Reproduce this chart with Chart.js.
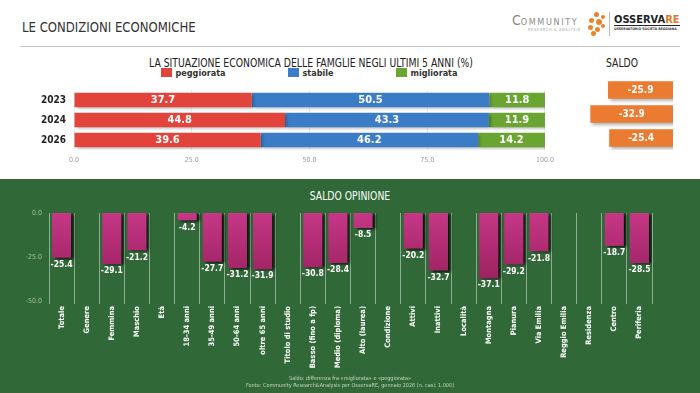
<!DOCTYPE html>
<html>
<head>
<meta charset="utf-8">
<script src="https://cdn.jsdelivr.net/npm/chart.js@4.4.1/dist/chart.umd.min.js"></script>
<style>
  body { margin: 0; width: 700px; height: 393px; overflow: hidden; background: #fff; position: relative;
         font-family: "Liberation Sans Narrow", "DejaVu Sans Condensed", Roboto, sans-serif; }
  .abs { position: absolute; }
  .stretta { transform: scaleX(0.86); transform-origin: center; }
  #header { left: 22px; top: 19px; font-size: 14px; color: #333; transform: scaleX(0.93); transform-origin: left; }
  #rule { left: 20px; top: 46px; width: 660px; height: 1px; background: #c4c4c4; }
  #verde { left: 0; top: 179px; width: 700px; height: 214px; background: #306937; }
  #titoloTop { left: 0; width: 622px; top: 56px; text-align: center; font-size: 12px; color: #222; }
  #titoloSaldo { left: 592px; width: 60px; top: 56px; text-align: center; font-size: 12px; color: #222; }
  #legenda { left: 0; width: 618px; top: 68px; display: flex; justify-content: center; gap: 62px; font-size: 9px; font-weight: bold; color: #333; }
  #legenda span.box { display: inline-block; width: 11px; height: 9px; margin-right: 4px; vertical-align: -1px; }
  #titoloBottom { left: 0; width: 700px; top: 189px; text-align: center; font-size: 12px; color: #fff; }
  #note { left: 0; width: 700px; top: 375px; text-align: center; font-size: 5.5px; line-height: 7px; color: #c3d3bf; }
  #logo1 { left: 512px; top: 12px; font-size: 9px; letter-spacing: 1.6px; color: #8a8a8a; }
  #logo1 b { font-size: 14px; font-weight: normal; letter-spacing: 0; }
  #logo1s { left: 528px; top: 27px; font-size: 4px; letter-spacing: 0.6px; color: #aaa; }
  #sep { left: 609px; top: 12px; width: 1px; height: 24px; background: #bbb; }
  #logo2 { left: 614px; top: 14px; font-size: 11px; font-weight: bold; color: #222; border-bottom: 1px solid #222; line-height: 11px; }
  #logo2 i { font-style: normal; color: #e07a2a; }
  #logo2s { left: 614px; top: 27px; font-size: 3.5px; font-weight: bold; color: #333; }
  .dot { position: absolute; border-radius: 50%; background: #e8842c; }
</style>
</head>
<body>
<div id="header" class="abs">LE CONDIZIONI ECONOMICHE</div>
<div id="rule" class="abs"></div>
<div id="logo1" class="abs"><b>C</b>OMMUNITY</div>
<div id="logo1s" class="abs">RESEARCH &amp; ANALYSIS</div>
<div class="dot" style="left:594px;top:12px;width:5px;height:5px"></div>
<div class="dot" style="left:589px;top:18px;width:5px;height:5px"></div>
<div class="dot" style="left:596px;top:19px;width:6px;height:6px"></div>
<div class="dot" style="left:601px;top:15px;width:4px;height:4px"></div>
<div class="dot" style="left:588px;top:25px;width:5px;height:5px"></div>
<div class="dot" style="left:595px;top:27px;width:5px;height:5px"></div>
<div class="dot" style="left:601px;top:24px;width:4px;height:4px"></div>
<div class="dot" style="left:591px;top:31px;width:5px;height:5px"></div>
<div id="sep" class="abs"></div>
<div id="logo2" class="abs">OSSERVA<i>RE</i></div>
<div id="logo2s" class="abs">OSSERVATORIO SOCIETÀ REGGIANA</div>

<div id="titoloTop" class="abs stretta">LA SITUAZIONE ECONOMICA DELLE FAMGLIE NEGLI ULTIMI 5 ANNI (%)</div>
<div id="titoloSaldo" class="abs stretta">SALDO</div>
<div id="legenda" class="abs"></div>

<div class="abs" style="left:0;top:76px"><canvas id="topChart" width="560" height="94"></canvas></div>
<div class="abs" style="left:560px;top:76px"><canvas id="saldoChart" width="140" height="94"></canvas></div>

<div id="verde" class="abs"></div>
<div id="titoloBottom" class="abs stretta">SALDO OPINIONE</div>
<div class="abs" style="left:0;top:179px"><canvas id="bottomChart" width="700" height="214"></canvas></div>
<div id="note" class="abs">Saldo: differenza fra «migliorata» e «peggiorata»<br>Fonte: Community Research&amp;Analysis per OsservaRE, gennaio 2026 (n. casi: 1.000)</div>

<script>
// dati
var anni = ['2023', '2024', '2026'];
var serie = ['peggiorata', 'stabile', 'migliorata'];
var peggiorata = [37.7, 44.8, 39.6];
var stabile = [50.5, 43.3, 46.2];
var migliorata = [11.8, 11.9, 14.2];
var saldo = [-25.9, -32.9, -25.4];

var categorie = ['Totale', 'Genere', 'Femmina', 'Maschio', 'Età', '18-34 anni', '35-49 anni', '50-64 anni',
  'oltre 65 anni', 'Titolo di studio', 'Basso (fino a fp)', 'Medio (diploma)', 'Alto (laurea)', 'Condizione',
  'Attivi', 'Inattivi', 'Località', 'Montagna', 'Pianura', 'Via Emilia', 'Reggio Emilia', 'Residenza',
  'Centro', 'Periferia'];
var saldoOpinione = [-25.4, null, -29.1, -21.2, null, -4.2, -27.7, -31.2, -31.9, null, -30.8, -28.4, -8.5,
  null, -20.2, -32.7, null, -37.1, -29.2, -21.8, null, null, -18.7, -28.5];

var colori = ['#e2433b', '#3b7cc6', '#6aa431'];
var FONT = '"Liberation Sans Narrow", "DejaVu Sans Condensed", Roboto, sans-serif';
Chart.defaults.font.family = FONT;

// legenda html
var leg = document.getElementById('legenda');
serie.forEach(function(s, i) {
  var d = document.createElement('div');
  d.innerHTML = '<span class="box" style="background:' + colori[i] + '"></span>' + s;
  leg.appendChild(d);
});

// ombra + etichette valori
var ombraEtichette = {
  id: 'ombraEtichette',
  beforeDatasetsDraw: function(chart, args, opts) {
    var ctx = chart.ctx;
    ctx.save();
    ctx.shadowColor = opts.shadow || 'rgba(0,0,0,0.4)';
    ctx.shadowOffsetX = opts.dx || 2;
    ctx.shadowOffsetY = opts.dy || 2;
    ctx.shadowBlur = opts.blur || 3;
  },
  afterDatasetsDraw: function(chart, args, opts) {
    var ctx = chart.ctx;
    ctx.restore();
    ctx.save();
    ctx.fillStyle = '#fff';
    ctx.font = 'bold ' + (opts.size || 11) + 'px ' + FONT;
    ctx.textAlign = 'center';
    ctx.textBaseline = 'middle';
    chart.data.datasets.forEach(function(ds, di) {
      var meta = chart.getDatasetMeta(di);
      meta.data.forEach(function(el, i) {
        var v = ds.data[i];
        if (v === null || v === undefined) return;
        var txt = v.toFixed(1);
        if (opts.mode === 'below') {
          ctx.fillText(txt, el.x, el.y + 7);
        } else {
          ctx.fillText(txt, (el.x + el.base) / 2, el.y + 0.5);
        }
      });
    });
    ctx.restore();
  }
};

var fmt = function(v) { return Number(v).toFixed(1); };

// grafico in alto: barre impilate
new Chart(document.getElementById('topChart'), {
  type: 'bar',
  data: {
    labels: anni,
    datasets: [
      { label: serie[0], data: peggiorata, backgroundColor: colori[0] },
      { label: serie[1], data: stabile, backgroundColor: colori[1] },
      { label: serie[2], data: migliorata, backgroundColor: colori[2] }
    ]
  },
  options: {
    indexAxis: 'y',
    responsive: false,
    animation: false,
    layout: { padding: { top: 2, right: 12, bottom: 2, left: 0 } },
    datasets: { bar: { barPercentage: 0.72, categoryPercentage: 1 } },
    plugins: {
      legend: { display: false },
      tooltip: { enabled: false },
      ombraEtichette: { size: 11, shadow: 'rgba(0,0,0,0.3)', dx: 2, dy: 2, blur: 3 }
    },
    scales: {
      x: {
        stacked: true, min: 0, max: 100,
        ticks: { stepSize: 25, callback: fmt, color: '#9a9a9a', font: { size: 7 }, padding: 6 },
        grid: { color: 'rgba(0,0,0,0.08)', drawTicks: false },
        border: { display: false },
        afterFit: function(s) { s.height = 18; }
      },
      y: {
        stacked: true,
        ticks: { color: '#222', font: { size: 10, weight: 'bold' }, padding: 8 },
        grid: { display: false, drawTicks: false },
        border: { display: false },
        afterFit: function(s) { s.width = 74; }
      }
    }
  },
  plugins: [ombraEtichette]
});

// saldo a destra
new Chart(document.getElementById('saldoChart'), {
  type: 'bar',
  data: {
    labels: anni,
    datasets: [{ label: 'Saldo', data: saldo, backgroundColor: '#ea7b30' }]
  },
  options: {
    indexAxis: 'y',
    responsive: false,
    animation: false,
    layout: { padding: { top: 2, right: 27, bottom: 20, left: 5 } },
    datasets: { bar: { barPercentage: 0.72, categoryPercentage: 1 } },
    plugins: {
      legend: { display: false },
      tooltip: { enabled: false },
      ombraEtichette: { size: 10, shadow: 'rgba(0,0,0,0.3)', dx: 2, dy: 2, blur: 3 }
    },
    scales: {
      x: { display: false, min: -43, max: 0 },
      y: { display: false }
    }
  },
  plugins: [ombraEtichette]
});

// saldo opinione
new Chart(document.getElementById('bottomChart'), {
  type: 'bar',
  data: {
    labels: categorie,
    datasets: [{
      label: 'Saldo opinione',
      data: saldoOpinione,
      backgroundColor: function(c) {
        var ca = c.chart.chartArea;
        if (!ca) return '#b42d75';
        var g = c.chart.ctx.createLinearGradient(0, ca.top, 0, ca.bottom);
        g.addColorStop(0, '#c63786');
        g.addColorStop(1, '#8f1c55');
        return g;
      }
    }]
  },
  options: {
    responsive: false,
    animation: false,
    layout: { padding: { top: 34, right: 48, bottom: 0, left: 0 } },
    datasets: { bar: { barPercentage: 0.76, categoryPercentage: 1 } },
    plugins: {
      legend: { display: false },
      tooltip: { enabled: false },
      ombraEtichette: { mode: 'below', size: 8.5, shadow: 'rgba(0,0,0,0.85)', dx: 3, dy: 1, blur: 3 }
    },
    scales: {
      x: {
        ticks: { color: '#fff', font: { size: 7.5, weight: 'bold' }, minRotation: 90, maxRotation: 90, autoSkip: false, padding: 2 },
        grid: { color: 'rgba(255,255,255,0.45)', tickLength: 3 },
        border: { display: false },
        afterFit: function(s) { s.height = 92; }
      },
      y: {
        min: -50, max: 0,
        ticks: { stepSize: 25, callback: fmt, color: '#a9bfa5', font: { size: 7 }, padding: 7 },
        grid: { display: false, drawTicks: false },
        border: { display: false },
        afterFit: function(s) { s.width = 49; }
      }
    }
  },
  plugins: [ombraEtichette]
});
</script>
</body>
</html>
